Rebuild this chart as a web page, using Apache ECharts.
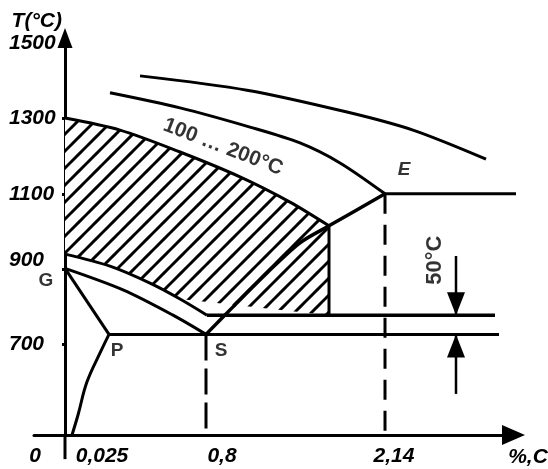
<!DOCTYPE html>
<html>
<head>
<meta charset="utf-8">
<script src="https://cdn.jsdelivr.net/npm/echarts@6/dist/echarts.min.js"></script>
<style>
  html, body { margin: 0; padding: 0; background: #fff; }
  #chart { width: 548px; height: 469px; }
</style>
</head>
<body>
<div id="chart"></div>
<script>
// Temperature ticks (°C) of the vertical axis
const tempTicks = [700, 900, 1100, 1300, 1500];
// Carbon content labels and their places on the schematic horizontal axis
const carbonLabels = ['0', '0,025', '0,8', '2,14'];
const carbonLabelPos = [-6, 7.4, 31.4, 65.8];

// Key points of the diagram: [position, T °C]
const pointG = [0, 902];
const pointP = [8.8, 727];
const pointS = [28.2, 727];
const pointE = [64, 1100];

// Phase lines
const lineGP = [pointG, pointP];
const lineGS = [pointG, [11.6, 845], [21.6, 778], pointS];
const linePQ = [pointP, [7.2, 683], [4.4, 601], [2.6, 513], [1.4, 460]];
const lineSE = [pointS, [33.6, 800], [40.4, 890], [47, 970], [52.8, 1015], pointE];
const linePSK = [pointP, [86.8, 727]];
const lineA1plus = [[28.4, 778], [86, 778]];
const lineEF = [pointE, [91.6, 1100]];
const dropS = [pointS, [28.2, 460]];
const dropE = [pointE, [64, 460]];

// Heating range (hatched) borders
const hatchTop = [[0, 1301], [11, 1269], [23, 1211], [35, 1145], [45, 1078], [52.8, 1015]];
const hatchRight = [[52.8, 1015], [52.8, 778]];
const hatchBottom = [[0, 940], [9, 908], [17, 863], [23, 821], [28.4, 778]];

// Upper limit curves
const curveB = [[9, 1368], [23, 1328], [37, 1277], [47, 1235], [55, 1182], pointE];
const curveA = [[15, 1413], [36.4, 1375], [56.4, 1317], [69.6, 1269], [84.2, 1192]];

// 50 °C dimension
const dimDown = [[78.2, 935], [78.2, 778]];
const dimUp = [[78.2, 569], [78.2, 727]];
const axisTail = [[0, 460], [0, 396]];

// Text anchors
const rangeText = '100 … 200°C';
const rangeAt = [31.6, 1224];
const dimText = '50°C';
const dimAt = [74, 924];

const FONT = "'Liberation Sans', Arial, sans-serif";
const BLACK = '#000';

function hatchTile() {
  const size = 17;
  const c = document.createElement('canvas');
  c.width = size; c.height = size;
  const g = c.getContext('2d');
  g.fillStyle = '#fff';
  g.fillRect(0, 0, size, size);
  g.strokeStyle = BLACK;
  g.lineWidth = 3;
  for (let k = -2; k <= 3; k++) {
    const cc = 12 + size * k - size;
    g.beginPath();
    g.moveTo(cc + 4, -4);
    g.lineTo(cc - size - 4, size + 4);
    g.stroke();
  }
  return c;
}
const tile = hatchTile();

function line(data, opt) {
  opt = opt || {};
  return {
    type: 'line',
    data: data,
    symbol: 'none',
    showSymbol: false,
    smooth: opt.smooth || false,
    clip: false,
    silent: true,
    z: opt.z || 3,
    lineStyle: { color: BLACK, width: opt.width || 3, type: opt.dash || 'solid', cap: 'butt' }
  };
}

function arrowLine(data, down) {
  return {
    type: 'line',
    clip: false,
    silent: true,
    z: 4,
    showSymbol: true,
    data: [
      { value: data[0], symbol: 'none' },
      {
        value: data[1],
        symbol: 'triangle',
        symbolSize: [18, 23],
        symbolRotate: down ? 180 : 0,
        symbolOffset: [0, down ? -11.5 : 11.5],
        itemStyle: { color: BLACK }
      }
    ],
    lineStyle: { color: BLACK, width: 2.5 }
  };
}

const labelBase = { fontFamily: FONT, color: BLACK, fontWeight: 'bold' };
const axisFont = { fontSize: 21, fontStyle: 'italic', ...labelBase };

const chart = echarts.init(document.getElementById('chart'), null, { renderer: 'canvas' });
chart.setOption({
  animation: false,
  backgroundColor: '#fff',
  grid: { left: 34, right: 34.5, top: 38, bottom: 34, containLabel: false, outerBoundsMode: 'none' },
  xAxis: {
    type: 'value',
    min: -6.2,
    max: 89.7,
    splitLine: { show: false },
    axisTick: { show: false },
    axisLine: {
      show: true,
      onZero: false,
      symbol: ['none', 'triangle'],
      symbolSize: [20, 23],
      lineStyle: { color: BLACK, width: 3 }
    },
    axisLabel: {
      customValues: carbonLabelPos,
      formatter: v => carbonLabels[carbonLabelPos.indexOf(v)] || '',
      margin: 11,
      ...axisFont
    },
    name: '{n|%,C}',
    nameLocation: 'end',
    nameGap: 14.5,
    nameTextStyle: {
      ...axisFont,
      align: 'center',
      verticalAlign: 'middle',
      rich: { n: { ...axisFont, padding: [44, 0, 0, 0] } }
    }
  },
  yAxis: {
    type: 'value',
    min: 460,
    max: 1513.5,
    splitLine: { show: false },
    axisLine: {
      show: true,
      onZero: true,
      symbol: ['none', 'triangle'],
      symbolSize: [15, 20],
      lineStyle: { color: BLACK, width: 3 }
    },
    axisTick: {
      show: true,
      customValues: [700, 900, 1100, 1300],
      length: 3,
      lineStyle: { color: BLACK, width: 3 }
    },
    axisLabel: {
      customValues: tempTicks,
      formatter: v => (v === 900 ? '{lift|900}' : '{t|' + v + '}'),
      margin: -23,
      ...axisFont,
      rich: {
        t: { ...axisFont, width: 48, align: 'left' },
        lift: { ...axisFont, width: 48, align: 'left', padding: [0, 0, 17, 0] }
      }
    },
    name: 'T(°C)',
    nameLocation: 'end',
    nameGap: 17,
    nameMoveOverlap: false,
    nameTextStyle: {
      ...axisFont,
      align: 'right', verticalAlign: 'middle', padding: [0, 3, 0, 0]
    }
  },
  series: [
    {
      type: 'custom',
      silent: true,
      z: 1,
      data: [[0, 900]],
      renderItem: function (params, api) {
        const outline = hatchTop
          .concat(hatchRight.slice(1))
          .concat(hatchBottom.slice().reverse().slice(1));
        return {
          type: 'polygon',
          shape: { points: outline.map(p => api.coord(p)) },
          style: { fill: { image: tile, repeat: 'repeat' }, stroke: null }
        };
      }
    },
    line(hatchTop, { smooth: 0.3 }),
    line(hatchRight),
    line(hatchBottom, { smooth: 0.3 }),
    line(lineGS, { smooth: 0.3 }),
    line(lineGP),
    line(linePQ, { smooth: 0.4 }),
    line(lineSE, { smooth: 0.3, width: 3.5 }),
    line(linePSK),
    line(lineA1plus, { width: 3.5 }),
    line(lineEF),
    line(dropS, { dash: [26, 8] }),
    line(dropE, { dash: [20, 11] }),
    line(curveB, { smooth: 0.3 }),
    line(curveA, { smooth: 0.3 }),
    line(axisTail),
    arrowLine(dimDown, true),
    arrowLine(dimUp, false),
    {
      type: 'scatter',
      symbolSize: 0,
      silent: true,
      z: 5,
      label: { show: true, position: 'inside', fontSize: 19, ...labelBase },
      data: [
        { value: pointG, label: { formatter: 'G', offset: [-19, 12] } },
        { value: pointP, label: { formatter: 'P', offset: [8, 16] } },
        { value: pointS, label: { formatter: 'S', offset: [15, 16] } },
        { value: pointE, label: { formatter: 'E', offset: [19, -24], fontStyle: 'italic' } },
        { value: rangeAt, label: { formatter: rangeText, rotate: -21, fontSize: 21 } },
        { value: dimAt, label: { formatter: dimText, rotate: 90, fontSize: 22 } }
      ]
    }
  ]
});
</script>
</body>
</html>
